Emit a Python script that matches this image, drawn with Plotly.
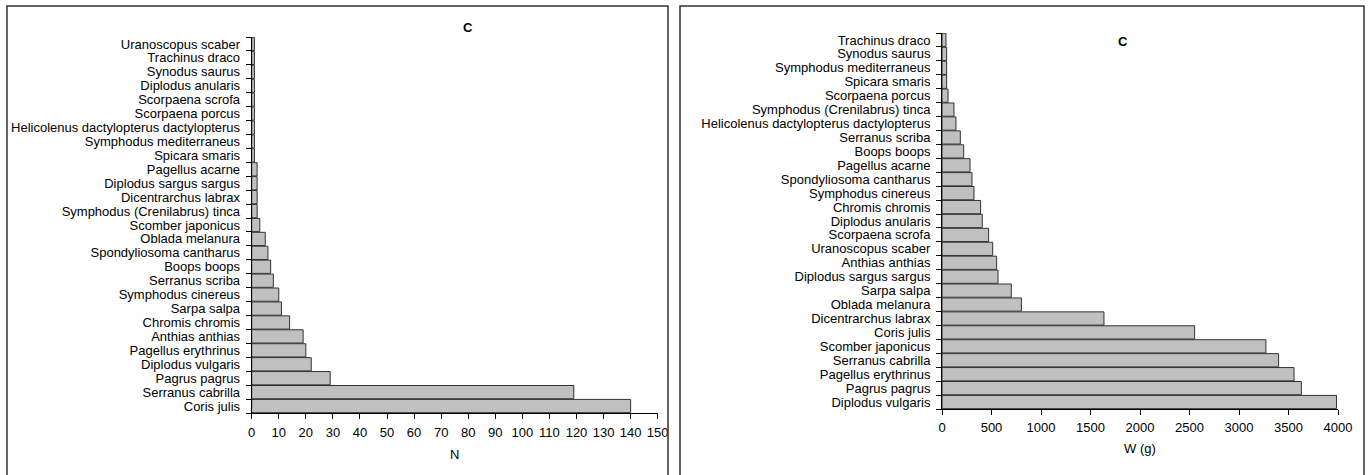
import plotly.graph_objects as go

# Left panel: number of individuals (N), bottom to top
species_n = [
    "Coris julis", "Serranus cabrilla", "Pagrus pagrus", "Diplodus vulgaris",
    "Pagellus erythrinus", "Anthias anthias", "Chromis chromis", "Sarpa salpa",
    "Symphodus cinereus", "Serranus scriba", "Boops boops", "Spondyliosoma cantharus",
    "Oblada melanura", "Scomber japonicus", "Symphodus (Crenilabrus) tinca",
    "Dicentrarchus labrax", "Diplodus sargus sargus", "Pagellus acarne",
    "Spicara smaris", "Symphodus mediterraneus", "Helicolenus dactylopterus dactylopterus",
    "Scorpaena porcus", "Scorpaena scrofa", "Diplodus anularis", "Synodus saurus",
    "Trachinus draco", "Uranoscopus scaber",
]
values_n = [140, 119, 29, 22, 20, 19, 14, 11, 10, 8, 7, 6, 5, 3, 2, 2, 2, 2,
            1, 1, 1, 1, 1, 1, 1, 1, 1]

# Right panel: weight W (g), bottom to top
species_w = [
    "Diplodus vulgaris", "Pagrus pagrus", "Pagellus erythrinus", "Serranus cabrilla",
    "Scomber japonicus", "Coris julis", "Dicentrarchus labrax", "Oblada melanura",
    "Sarpa salpa", "Diplodus sargus sargus", "Anthias anthias", "Uranoscopus scaber",
    "Scorpaena scrofa", "Diplodus anularis", "Chromis chromis", "Symphodus cinereus",
    "Spondyliosoma cantharus", "Pagellus acarne", "Boops boops", "Serranus scriba",
    "Helicolenus dactylopterus dactylopterus", "Symphodus (Crenilabrus) tinca",
    "Scorpaena porcus", "Spicara smaris", "Symphodus mediterraneus", "Synodus saurus",
    "Trachinus draco",
]
values_w = [3985, 3630, 3556, 3400, 3272, 2552, 1636, 802, 700, 566, 552, 512,
            471, 407, 390, 323, 303, 283, 219, 185, 141, 121, 61, 47, 47, 47, 40]

x_ticks_n = list(range(0, 151, 10))
x_ticks_w = list(range(0, 4001, 500))

W, H = 1372, 475
FONT = "Liberation Sans, Arial, sans-serif"
FS = 13

def px_x(p):
    return p / W

def px_y(p):
    return 1 - p / H

bar_style = dict(marker=dict(color="#C0C0C0", line=dict(color="#333333", width=1)))

fig = go.Figure()
fig.add_trace(go.Bar(x=values_n, y=species_n, orientation="h", xaxis="x", yaxis="y",
                     showlegend=False, **bar_style))
fig.add_trace(go.Bar(x=values_w, y=species_w, orientation="h", xaxis="x2", yaxis="y2",
                     showlegend=False, **bar_style))

axis_common = dict(showline=True, linecolor="black", linewidth=1, showgrid=False,
                   zeroline=False, ticks="outside", ticklen=5, tickcolor="black",
                   automargin=False,
                   tickfont=dict(family=FONT, size=FS, color="black"))

fig.update_layout(
    template="none",
    width=W, height=H,
    margin=dict(l=0, r=0, t=0, b=0),
    paper_bgcolor="white", plot_bgcolor="white",
    bargap=0.05,
    font=dict(family=FONT, size=FS, color="black"),
    xaxis=dict(domain=[px_x(251.7), px_x(657.7)], anchor="y", range=[0, 150],
               tickmode="array", tickvals=x_ticks_n, ticklabelstandoff=2,
               title=dict(text="N", standoff=11, font=dict(family=FONT, size=FS)),
               **axis_common),
    yaxis=dict(domain=[px_y(413), px_y(37)], anchor="x", type="category",
               tickmode="array", tickvals=species_n, tickson="boundaries",
               ticklabelstandoff=8,
               range=[-0.5, len(species_n) - 0.5], **axis_common),
    xaxis2=dict(domain=[px_x(942), px_x(1338)], anchor="y2", range=[0, 4000],
                tickmode="array", tickvals=x_ticks_w, ticklabelstandoff=1,
                title=dict(text="W (g)", standoff=10, font=dict(family=FONT, size=FS)),
                **axis_common),
    yaxis2=dict(domain=[px_y(409), px_y(33)], anchor="x2", type="category",
                tickmode="array", tickvals=species_w, tickson="boundaries",
                ticklabelstandoff=8,
                range=[-0.5, len(species_w) - 0.5], **axis_common),
    shapes=[
        dict(type="rect", xref="paper", yref="paper", x0=px_x(7), x1=px_x(668),
             y0=px_y(485), y1=px_y(6), line=dict(color="#333333", width=1.5)),
        dict(type="rect", xref="paper", yref="paper", x0=px_x(680), x1=px_x(1364),
             y0=px_y(485), y1=px_y(6), line=dict(color="#333333", width=1.5)),
    ],
    annotations=[
        dict(text="<b>C</b>", xref="paper", yref="paper", x=px_x(468), y=px_y(27),
             xanchor="center", yanchor="middle",
             showarrow=False, font=dict(family=FONT, size=FS, color="black")),
        dict(text="<b>C</b>", xref="paper", yref="paper", x=px_x(1123), y=px_y(41),
             xanchor="center", yanchor="middle",
             showarrow=False, font=dict(family=FONT, size=FS, color="black")),
    ],
)

fig.write_html("out.html",
               config={"displayModeBar": False},
               post_script="document.body.style.margin='0px';"
                           "document.body.style.overflow='hidden';")
